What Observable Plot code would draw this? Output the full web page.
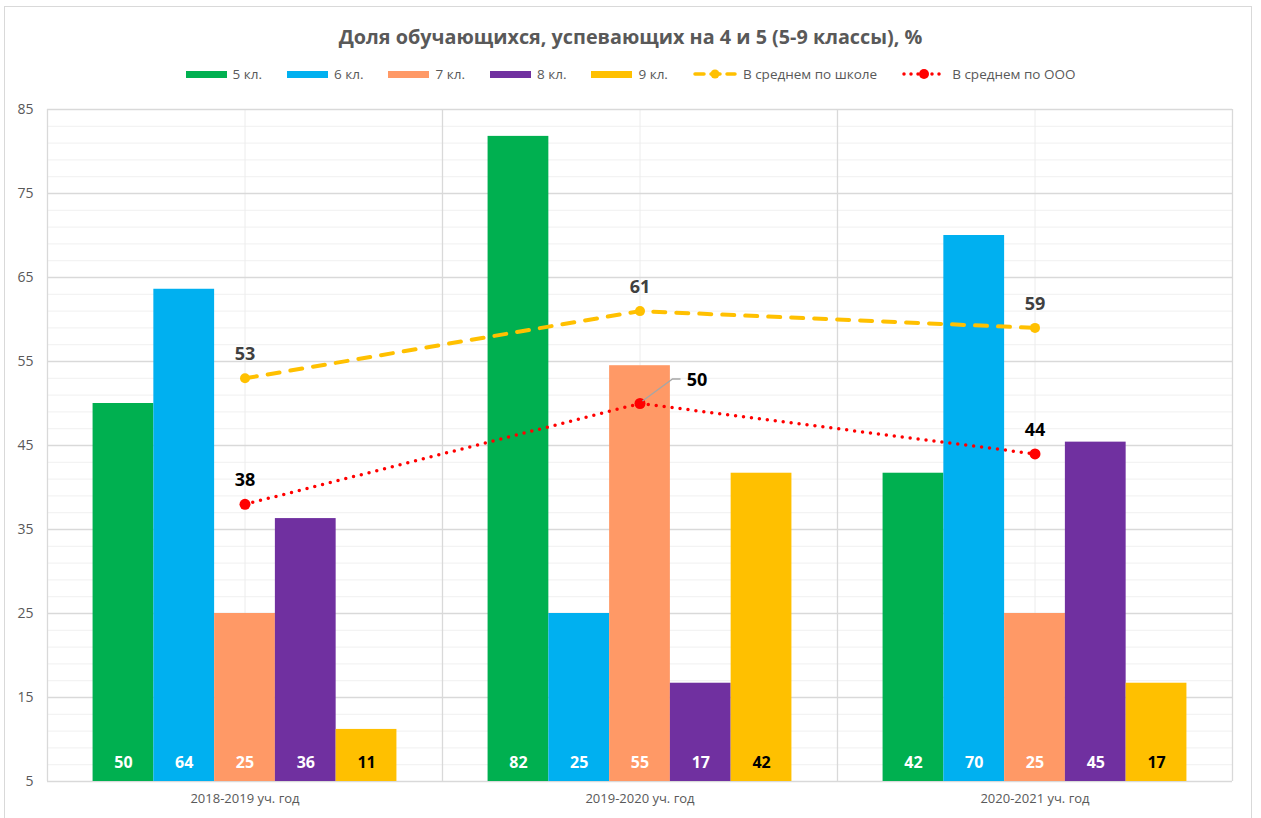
<!DOCTYPE html>
<html><head><meta charset="utf-8">
<script src="https://cdn.jsdelivr.net/npm/d3@7"></script>
<script src="https://cdn.jsdelivr.net/npm/@observablehq/plot@0.6"></script>
<style>
body{margin:0;background:#fff;font-family:"Open Sans",sans-serif;}
#wrap{position:relative;width:1261px;height:818px;overflow:hidden;background:#fff;}
#frame{position:absolute;left:4px;top:6px;width:1248px;height:840px;border:1px solid #d9d9d9;box-sizing:border-box;}
#title{position:absolute;top:23px;left:0;width:1261px;text-align:center;font-weight:bold;font-size:19.8px;color:#595959;}
#legend{position:absolute;top:65px;left:0;width:1261px;display:flex;justify-content:center;gap:25px;font-size:13.5px;color:#595959;align-items:center;}
.item{display:flex;align-items:center;gap:6px;}
.sw{width:41px;height:7px;}
#chart{position:absolute;left:0;top:95px;}
</style></head>
<body><div id="wrap"><div id="frame"></div><div id="title"></div><div id="legend"></div><div id="chart"></div></div>
<script>
const title = "Доля обучающихся, успевающих на 4 и 5 (5-9 классы), %";
const years = ["2018-2019 уч. год", "2019-2020 уч. год", "2020-2021 уч. год"];
const classes = ["5 кл.", "6 кл.", "7 кл.", "8 кл.", "9 кл."];
const v5 = [50, 81.8, 41.7];
const v6 = [63.6, 25, 70];
const v7 = [25, 54.5, 25];
const v8 = [36.3, 16.7, 45.4];
const v9 = [11.2, 41.7, 16.7];
const schoolAvg = [53, 61, 59];
const oooAvg = [38, 50, 44];
const lineNames = ["В среднем по школе", "В среднем по ООО"];
const yTicks = [5, 15, 25, 35, 45, 55, 65, 75, 85];

const series = [v5, v6, v7, v8, v9];
const colors = ["#00B050", "#00B0F0", "#FF9966", "#7030A0", "#FFC000"];
const labelColors = ["#fff", "#fff", "#fff", "#fff", "#000"];

document.getElementById("title").textContent = title;
const legend = document.getElementById("legend");
classes.forEach((c, k) => {
  legend.insertAdjacentHTML("beforeend", `<div class="item"><div class="sw" style="background:${colors[k]}"></div><span>${c}</span></div>`);
});
legend.insertAdjacentHTML("beforeend", `<div class="item"><svg width="44" height="12"><line x1="2" x2="42" y1="6" y2="6" stroke="#FFC000" stroke-width="3.5" stroke-dasharray="9,7" stroke-linecap="round"/><circle cx="22" cy="6" r="4.5" fill="#FFC000"/></svg><span>${lineNames[0]}</span></div>`);
legend.insertAdjacentHTML("beforeend", `<div class="item"><svg width="44" height="12"><line x1="2" x2="42" y1="6" y2="6" stroke="#FF0000" stroke-width="3.5" stroke-dasharray="0,7" stroke-linecap="round"/><circle cx="22" cy="6" r="5" fill="#FF0000"/></svg><span>${lineNames[1]}</span></div>`);

const W = 1261, H = 723, ML = 47, MR = 29, MT = 14, MB = 37;
const GW = (W - ML - MR) / 3;
const BW = GW / 6.5;
const YMIN = 5;

const rows = years.flatMap((y, i) => classes.map((c, k) => ({year: y, cls: c, k, value: series[k][i]})));
const school = years.map((y, i) => ({year: y, v: schoolAvg[i]}));
const ooo = years.map((y, i) => ({year: y, v: oooAvg[i], i}));

const marks = [
  Plot.ruleY(d3.range(5, 86, 2), {stroke: "#f0f0f0"}),
  Plot.ruleX(years, {stroke: "#ececec"}),
  Plot.ruleY(yTicks, {stroke: "#d9d9d9", strokeWidth: 1.3}),
  Plot.ruleX(years, {dx: -GW / 2, stroke: "#d9d9d9", strokeWidth: 1.3}),
  Plot.ruleX([years[2]], {dx: GW / 2, stroke: "#d9d9d9", strokeWidth: 1.3}),
];
classes.forEach((c, k) => {
  const d = rows.filter(r => r.k === k);
  marks.push(Plot.rectY(d, {x: "year", y1: () => YMIN, y2: "value", fill: colors[k],
    insetLeft: BW * 0.75 + k * BW, insetRight: GW - BW * 0.75 - (k + 1) * BW}));
});
classes.forEach((c, k) => {
  const d = rows.filter(r => r.k === k);
  marks.push(Plot.text(d, {x: "year", y: () => YMIN, dx: (k - 2) * BW, dy: -19, text: r => String(Math.round(r.value)),
    fill: labelColors[k], fontWeight: "bold", fontSize: 16}));
});
marks.push(
  Plot.line(school, {x: "year", y: "v", curve: "linear", stroke: "#FFC000", strokeWidth: 4, strokeDasharray: "12,11", strokeLinecap: "round"}),
  Plot.dot(school, {x: "year", y: "v", r: 5, fill: "#FFC000"}),
  Plot.line(ooo, {x: "year", y: "v", curve: "linear", stroke: "#FF0000", strokeWidth: 3.5, strokeDasharray: "0,8", strokeLinecap: "round"}),
  Plot.dot(ooo, {x: "year", y: "v", r: 5.5, fill: "#FF0000"}),
  Plot.text(school, {x: "year", y: "v", dy: -24, text: d => String(d.v), fill: "#404040", fontWeight: "bold", fontSize: 18}),
  Plot.text(ooo.filter(d => d.i !== 1), {x: "year", y: "v", dy: -24, text: d => String(d.v), fill: "#000", fontWeight: "bold", fontSize: 18}),
  Plot.text(ooo.filter(d => d.i === 1), {x: "year", y: "v", dx: 57, dy: -23, text: d => String(d.v), fill: "#000", fontWeight: "bold", fontSize: 18}),
  Plot.axisY(yTicks, {tickSize: 0, tickPadding: 14, fontSize: 14, fill: "#595959", label: null}),
  Plot.axisX({tickSize: 0, tickPadding: 12, fontSize: 13, fill: "#595959", label: null})
);

const plot = Plot.plot({
  width: W, height: H, marginLeft: ML, marginRight: MR, marginTop: MT, marginBottom: MB,
  style: {fontFamily: "Open Sans", background: "transparent", color: "#595959"},
  x: {domain: years, padding: 0, label: null},
  y: {domain: [5, 85], label: null},
  marks
});
document.getElementById("chart").appendChild(plot);

// leader line for the label "50"
const xs = plot.scale("x"), ys = plot.scale("y");
const cx = xs.apply(years[1]) + xs.bandwidth / 2, cy = ys.apply(oooAvg[1]);
d3.select(plot).append("path")
  .attr("d", `M${cx + 3},${cy - 2}L${cx + 33},${cy - 24}L${cx + 41},${cy - 24}`)
  .attr("fill", "none").attr("stroke", "#a6a6a6").attr("stroke-width", 1.3);
</script></body></html>
